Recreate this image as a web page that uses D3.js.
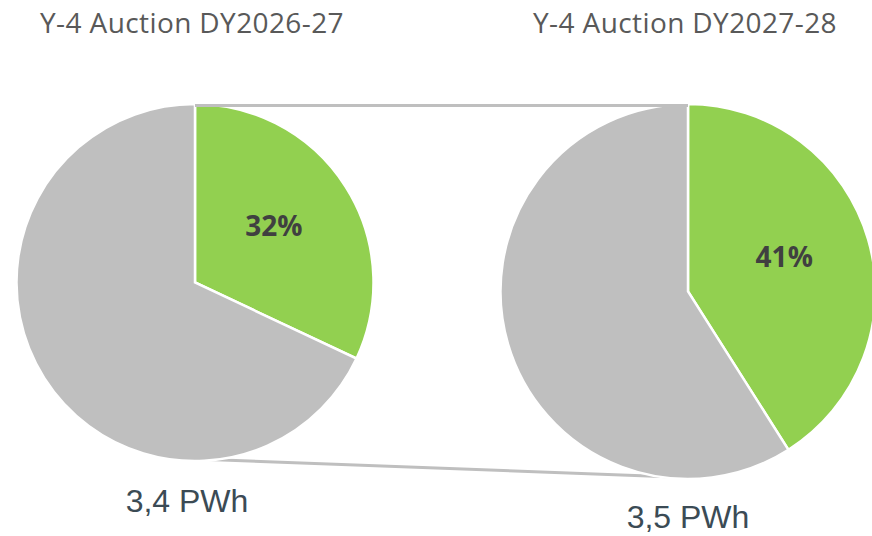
<!DOCTYPE html>
<html>
<head>
<meta charset="utf-8">
<script src="https://cdn.jsdelivr.net/npm/d3@7"></script>
<style>
  html, body { margin: 0; padding: 0; background: #fff; }
  svg { display: block; }
</style>
</head>
<body>
<div id="chart"></div>
<script>
const titles = ['Y-4 Auction DY2026-27', 'Y-4 Auction DY2027-28'];
const shares = [32, 41];
const totals = ['3,4 PWh', '3,5 PWh'];

document.addEventListener('DOMContentLoaded', () => {

  const width = 872;
  const height = 536;

  const svg = d3.select('#chart')
                .append('svg')
                .attr('width', width)
                .attr('height', height);

  // pie layout: centre, radius, where the title / total sit
  const pies = [
    { cx: 195, cy: 282.5, r: 178.5, titleX: 40, totalX: 187, totalY: 511.5 },
    { cx: 688, cy: 291.5, r: 187.5, titleX: 533, totalX: 688, totalY: 527.5 }
  ];

  const green = '#92d050';
  const grey = '#bfbfbf';

  const pie = d3.pie().sort(null).value((d) => d);

  // connector lines between the two pies
  svg.append('line')
     .attr('x1', pies[0].cx)
     .attr('y1', pies[0].cy + pies[0].r - 2)
     .attr('x2', pies[1].cx)
     .attr('y2', pies[1].cy + pies[1].r - 1.5)
     .attr('stroke', grey)
     .attr('stroke-width', 3);

  pies.forEach((p, i) => {
    const g = svg.append('g')
                 .attr('transform', 'translate(' + p.cx + ',' + p.cy + ')');

    const arc = d3.arc().innerRadius(0).outerRadius(p.r);
    const labelArc = d3.arc().innerRadius(p.r * 0.545).outerRadius(p.r * 0.545);

    const slices = pie([shares[i], 100 - shares[i]]);

    g.selectAll('path')
     .data(slices)
     .enter()
     .append('path')
     .attr('d', arc)
     .attr('fill', (d, j) => j === 0 ? green : grey)
     .attr('stroke', '#fff')
     .attr('stroke-width', 2.5)
     .attr('stroke-linejoin', 'miter');

    // label sits a little before the slice middle
    const s = slices[0];
    const c = labelArc.centroid({ startAngle: s.startAngle - 0.06, endAngle: s.endAngle - 0.06 });
    g.append('text')
     .attr('x', c[0])
     .attr('y', c[1] + 10)
     .attr('text-anchor', 'middle')
     .style('font-family', '"Open Sans", sans-serif')
     .style('font-weight', 'bold')
     .style('font-size', '28px')
     .style('fill', '#404040')
     .text(shares[i] + '%');

    svg.append('text')
       .attr('x', p.titleX)
       .attr('y', 33)
       .style('font-family', '"Open Sans", sans-serif')
       .style('font-size', '28px')
       .style('letter-spacing', '0.4px')
       .style('fill', '#595959')
       .text(titles[i]);

    svg.append('text')
       .attr('x', p.totalX)
       .attr('y', p.totalY)
       .attr('text-anchor', 'middle')
       .style('font-family', '"Liberation Sans", Arial, sans-serif')
       .style('font-size', '32px')
       .style('fill', '#3b4b55')
       .text(totals[i]);
  });

  svg.append('line')
     .attr('x1', pies[0].cx)
     .attr('y1', pies[0].cy - pies[0].r + 1.5)
     .attr('x2', pies[1].cx)
     .attr('y2', pies[1].cy - pies[1].r + 1.5)
     .attr('stroke', grey)
     .attr('stroke-width', 3);

});
</script>
</body>
</html>
